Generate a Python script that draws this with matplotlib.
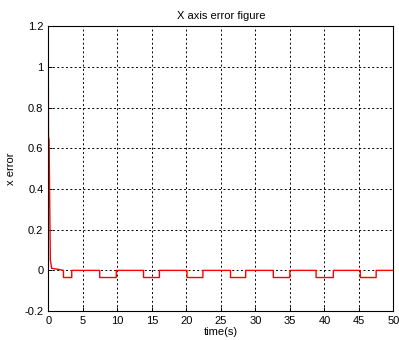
import matplotlib
matplotlib.use("Agg")
import matplotlib.pyplot as plt
import numpy as np

plt.rcParams['font.family'] = ['Liberation Sans', 'DejaVu Sans']

# initial transient
t_init = [0.0, 0.03, 0.12, 0.2, 0.3, 0.5, 1.5]
e_init = [1.0, 0.66, 0.64, 0.35, 0.05, 0.01, 0.005]
# periodic negative dips
dip_start = [2.2, 7.45, 13.8, 20.1, 26.4, 32.6, 38.8, 45.2]
dip_end = [3.4, 9.85, 16.1, 22.4, 28.6, 35.0, 41.3, 47.5]
dip_depth = [-0.035, -0.035, -0.035, -0.035, -0.035, -0.035, -0.035, -0.035]
t_end = 50.0

xticks = [0, 5, 10, 15, 20, 25, 30, 35, 40, 45, 50]
yticks = [-0.2, 0, 0.2, 0.4, 0.6, 0.8, 1, 1.2]
yticklabels = ['-0.2', '0', '0.2', '0.4', '0.6', '0.8', '1', '1.2']

t = list(t_init)
e = list(e_init)
for s, f, d in zip(dip_start, dip_end, dip_depth):
    t += [s, s, f, f]
    e += [0.0, d, d, 0.0]
t.append(t_end)
e.append(0.0)

fig = plt.figure(figsize=(3.99, 3.40), dpi=100)
ax = fig.add_axes([0.121, 0.085, 0.865, 0.838])
ax.plot(t, e, color='red', linewidth=1.0)
ax.set_xlim(0, 50)
ax.set_ylim(-0.2, 1.2)
ax.set_xticks(xticks)
ax.set_yticks(yticks)
ax.set_yticklabels(yticklabels)
ax.grid(True, color='black', linestyle=(0, (2, 2.5)), linewidth=0.7)
ax.tick_params(direction='in', labelsize=8, length=3, width=0.7)
for sp in ax.spines.values():
    sp.set_linewidth(0.8)
ax.set_title('X axis error figure', fontsize=8, pad=5)
ax.set_xlabel('time(s)', fontsize=8, labelpad=1)
ax.set_ylabel('x error', fontsize=8, labelpad=6)

fig.savefig('out.png', dpi=100)
